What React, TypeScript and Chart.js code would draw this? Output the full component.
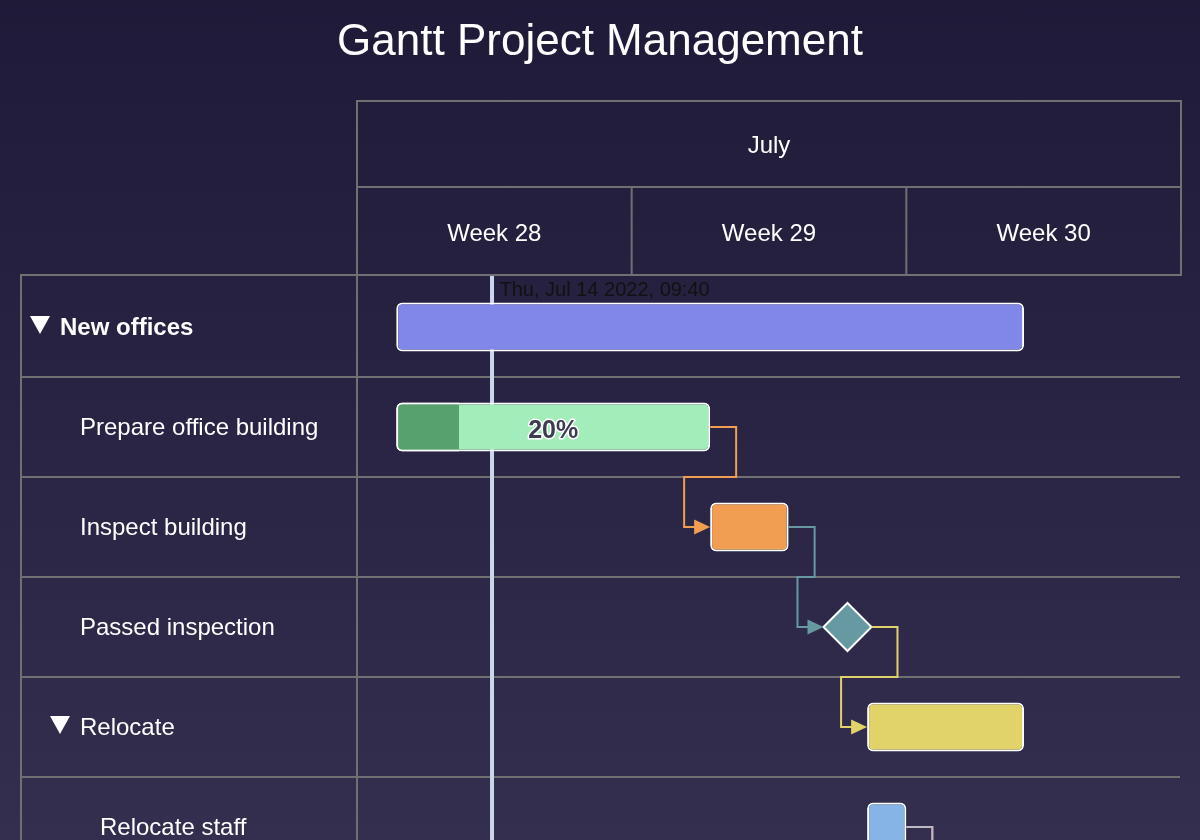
import React, { useEffect, useRef } from 'react';
import { Chart, registerables } from 'chart.js';

Chart.register(...registerables);

const chartTitle = 'Gantt Project Management';

const taskNames = ['New offices', 'Prepare office building', 'Inspect building', 'Passed inspection', 'Relocate', 'Relocate staff', 'Relocate test facility', 'Relocate cantina'];
const taskLevels = [0, 1, 1, 1, 1, 2, 2, 2];
const taskHasChildren = [true, false, false, false, true, false, false, false];
const taskStarts = ['2022-07-12T00:00', '2022-07-12T00:00', '2022-07-20T00:00', null, '2022-07-24T00:00', '2022-07-24T00:00', '2022-07-25T00:00', '2022-07-25T00:00'];
const taskEnds = ['2022-07-28T00:00', '2022-07-20T00:00', '2022-07-22T00:00', null, '2022-07-28T00:00', '2022-07-25T00:00', '2022-07-27T00:00', '2022-07-28T00:00'];
const taskColors = ['#8087e8', '#a3edba', '#f19e53', '#6699a1', '#e1d369', '#87b4e7', '#da6d85', '#bbbac5'];
const taskCompleted = [null, 0.2, null, null, null, null, null, null];
const completedColor = '#57a16d';

const milestoneNames = ['Passed inspection'];
const milestoneDates = ['2022-07-23T12:00'];

const dependencyFrom = [1, 2, 3, 5, 5];
const dependencyTo = [2, 3, 4, 6, 7];

const monthLabels = ['July'];
const monthStarts = ['2022-07-01T00:00'];
const monthEnds = ['2022-08-01T00:00'];
const weekLabels = ['Week 28', 'Week 29', 'Week 30'];
const weekStarts = ['2022-07-11T00:00', '2022-07-18T00:00', '2022-07-25T00:00'];
const weekEnds = ['2022-07-18T00:00', '2022-07-25T00:00', '2022-08-01T00:00'];

const axisMin = '2022-07-11T00:00';
const axisMax = '2022-08-01T00:00';
const currentDate = '2022-07-14T09:40';

const DAY_NAMES = ['Sun', 'Mon', 'Tue', 'Wed', 'Thu', 'Fri', 'Sat'];
const MONTH_NAMES = ['Jan', 'Feb', 'Mar', 'Apr', 'May', 'Jun', 'Jul', 'Aug', 'Sep', 'Oct', 'Nov', 'Dec'];

const FONT = '"Liberation Sans", Arial, Helvetica, sans-serif';
const GRID = '#707073';
const TEXT = '#ffffff';

const ms = (s: string) => Date.parse(s + ':00Z');
const pad = (n: number) => (n < 10 ? '0' + n : '' + n);
const fmtDate = (t: number) => {
  const d = new Date(t);
  return `${DAY_NAMES[d.getUTCDay()]}, ${MONTH_NAMES[d.getUTCMonth()]} ${d.getUTCDate()} ${d.getUTCFullYear()}, ${pad(d.getUTCHours())}:${pad(d.getUTCMinutes())}`;
};

const ganttPlugin = {
  id: 'ganttDecor',
  beforeDatasetsDraw(chart: any) {
    const { ctx, chartArea: ca } = chart;
    const x = chart.scales.x;
    const y = chart.scales.y;
    const rowH = y.getPixelForValue(1) - y.getPixelForValue(0);
    const headBottom = ca.top - 2;
    const headMid = headBottom - 88;
    const headTop = headBottom - 174;
    const treeLeft = 21;

    ctx.save();
    // title
    ctx.fillStyle = TEXT;
    ctx.font = `44px ${FONT}`;
    ctx.textAlign = 'center';
    ctx.textBaseline = 'alphabetic';
    ctx.fillText(chartTitle, chart.width / 2, 55);

    // grid
    ctx.strokeStyle = GRID;
    ctx.lineWidth = 2;
    const line = (x1: number, y1: number, x2: number, y2: number) => {
      ctx.beginPath();
      ctx.moveTo(x1, y1);
      ctx.lineTo(x2, y2);
      ctx.stroke();
    };
    line(ca.left - 1, headTop, ca.right + 1, headTop);
    line(ca.left, headMid, ca.right, headMid);
    line(treeLeft - 1, headBottom, ca.right + 1, headBottom);
    line(ca.right, headTop, ca.right, headBottom);
    line(ca.left, headTop, ca.left, ca.bottom);
    line(treeLeft, headBottom, treeLeft, ca.bottom);
    weekStarts.forEach((s) => {
      const px = x.getPixelForValue(ms(s));
      if (px > ca.left + 1 && px < ca.right - 1) line(px, headMid, px, headBottom);
    });
    for (let i = 1; i < taskNames.length; i++) {
      const yb = y.getPixelForValue(i) - rowH / 2;
      line(treeLeft, yb, ca.right - 1, yb);
    }

    // header labels
    ctx.fillStyle = TEXT;
    ctx.font = `24px ${FONT}`;
    ctx.textAlign = 'center';
    monthLabels.forEach((lab, i) => {
      const a = Math.max(ca.left, x.getPixelForValue(ms(monthStarts[i])));
      const b = Math.min(ca.right, x.getPixelForValue(ms(monthEnds[i])));
      ctx.fillText(lab, (a + b) / 2, (headTop + headMid) / 2 + 9);
    });
    weekLabels.forEach((lab, i) => {
      const a = Math.max(ca.left, x.getPixelForValue(ms(weekStarts[i])));
      const b = Math.min(ca.right, x.getPixelForValue(ms(weekEnds[i])));
      ctx.fillText(lab, (a + b) / 2, (headMid + headBottom) / 2 + 10);
    });

    // tree labels
    ctx.textAlign = 'left';
    taskNames.forEach((name, i) => {
      const cy = y.getPixelForValue(i);
      const tx = 60 + 20 * taskLevels[i];
      ctx.font = `${taskLevels[i] === 0 ? 'bold ' : ''}24px ${FONT}`;
      ctx.fillStyle = TEXT;
      ctx.fillText(name, tx, cy + 8);
      if (taskHasChildren[i]) {
        ctx.beginPath();
        ctx.moveTo(tx - 30, cy - 11);
        ctx.lineTo(tx - 10, cy - 11);
        ctx.lineTo(tx - 20, cy + 7);
        ctx.closePath();
        ctx.fill();
      }
    });

    // current date indicator
    const xNow = x.getPixelForValue(ms(currentDate));
    ctx.strokeStyle = '#ccd6eb';
    ctx.lineWidth = 4;
    line(xNow + 1.5, headBottom + 1, xNow + 1.5, ca.bottom);
    ctx.restore();
  },
  afterDatasetsDraw(chart: any) {
    const { ctx, chartArea: ca } = chart;
    const x = chart.scales.x;
    const y = chart.scales.y;
    const rowH = y.getPixelForValue(1) - y.getPixelForValue(0);
    const barMeta = chart.getDatasetMeta(0);
    const msMeta = chart.getDatasetMeta(2);
    const bounds = (i: number) => {
      const mi = milestoneNames.indexOf(taskNames[i]);
      if (mi >= 0) {
        const p = msMeta.data[mi];
        const r = p.options.radius;
        return { l: p.x - r, r: p.x + r, y: p.y };
      }
      const el = barMeta.data[i];
      return { l: Math.min(el.x, el.base), r: Math.max(el.x, el.base), y: el.y };
    };

    ctx.save();
    // dependency connectors
    dependencyFrom.forEach((from, k) => {
      const to = dependencyTo[k];
      const s = bounds(from);
      const t = bounds(to);
      const midY = y.getPixelForValue(from) + rowH / 2;
      const color = taskColors[to];
      ctx.strokeStyle = color;
      ctx.fillStyle = color;
      ctx.lineWidth = 2;
      ctx.beginPath();
      ctx.moveTo(s.r, s.y);
      ctx.lineTo(s.r + 26, s.y);
      ctx.lineTo(s.r + 26, midY);
      ctx.lineTo(t.l - 26, midY);
      ctx.lineTo(t.l - 26, t.y);
      ctx.lineTo(t.l - 14, t.y);
      ctx.stroke();
      ctx.beginPath();
      ctx.moveTo(t.l - 16, t.y - 7.5);
      ctx.lineTo(t.l, t.y);
      ctx.lineTo(t.l - 16, t.y + 7.5);
      ctx.closePath();
      ctx.fill();
    });

    // completion labels
    taskCompleted.forEach((c, i) => {
      if (c == null) return;
      const el = barMeta.data[i];
      const cx = (el.x + el.base) / 2;
      const txt = `${Math.round(c * 100)}%`;
      ctx.font = `bold 25px ${FONT}`;
      ctx.textAlign = 'center';
      ctx.textBaseline = 'alphabetic';
      ctx.lineJoin = 'round';
      ctx.lineWidth = 3;
      ctx.strokeStyle = '#ffffff';
      ctx.strokeText(txt, cx, el.y + 11);
      ctx.fillStyle = '#3d3d52';
      ctx.fillText(txt, cx, el.y + 11);
    });

    // current date label
    const xNow = x.getPixelForValue(ms(currentDate));
    ctx.font = `20px ${FONT}`;
    ctx.textAlign = 'left';
    ctx.fillStyle = '#111111';
    ctx.fillText(fmtDate(ms(currentDate)), xNow + 9, ca.top + 19);
    ctx.restore();
  },
};

export default function App() {
  const ref = useRef<HTMLCanvasElement | null>(null);

  useEffect(() => {
    if (!ref.current) return;
    const barData = taskStarts.map((s, i) => (s && taskEnds[i] ? [ms(s), ms(taskEnds[i] as string)] : null));
    const completedData = taskStarts.map((s, i) => {
      const c = taskCompleted[i];
      if (c == null || !s || !taskEnds[i]) return null;
      const a = ms(s);
      const b = ms(taskEnds[i] as string);
      return [a, a + c * (b - a)];
    });
    const milestoneData = milestoneNames.map((n, i) => ({ x: ms(milestoneDates[i]), y: n }));

    const chart = new Chart(ref.current, {
      type: 'bar',
      data: {
        labels: taskNames,
        datasets: [
          {
            label: 'Tasks',
            data: barData as any,
            backgroundColor: taskColors,
            borderColor: '#ffffff',
            borderWidth: 2,
            borderRadius: 6,
            borderSkipped: false,
            barThickness: 49,
            inflateAmount: 0,
            grouped: false,
            order: 3,
          } as any,
          {
            label: 'Completed',
            data: completedData as any,
            backgroundColor: completedColor,
            borderColor: '#ffffff',
            borderWidth: { top: 2, left: 2, bottom: 2, right: 0 },
            borderRadius: { topLeft: 6, bottomLeft: 6, topRight: 0, bottomRight: 0 },
            borderSkipped: false,
            barThickness: 49,
            inflateAmount: 0,
            grouped: false,
            order: 2,
          } as any,
          {
            type: 'scatter',
            label: 'Milestones',
            data: milestoneData as any,
            pointStyle: 'rectRot',
            pointRadius: 24,
            backgroundColor: milestoneNames.map((n) => taskColors[taskNames.indexOf(n)]),
            borderColor: '#ffffff',
            borderWidth: 2,
            order: 1,
            clip: false,
          } as any,
        ],
      },
      options: {
        indexAxis: 'y',
        responsive: false,
        maintainAspectRatio: false,
        animation: false,
        devicePixelRatio: 1,
        events: [],
        layout: { autoPadding: false, padding: { left: 357, right: 19, top: 277, bottom: 0 } },
        scales: {
          x: { type: 'linear', min: ms(axisMin), max: ms(axisMax), offset: false, display: false, beginAtZero: false },
          y: { type: 'category', display: false, offset: true, grid: { offset: true } },
        },
        plugins: {
          legend: { display: false },
          tooltip: { enabled: false },
          title: { display: false },
        },
      } as any,
      plugins: [ganttPlugin],
    });
    return () => chart.destroy();
  }, []);

  return (
    <div
      style={{
        position: 'fixed',
        left: 0,
        top: 0,
        width: 1200,
        height: 840,
        overflow: 'hidden',
        background: 'linear-gradient(180deg, #1f1a38 0px, #342e4f 840px)',
      }}
    >
      <canvas ref={ref} width={1200} height={1077} style={{ display: 'block', width: 1200, height: 1077 }} />
    </div>
  );
}
